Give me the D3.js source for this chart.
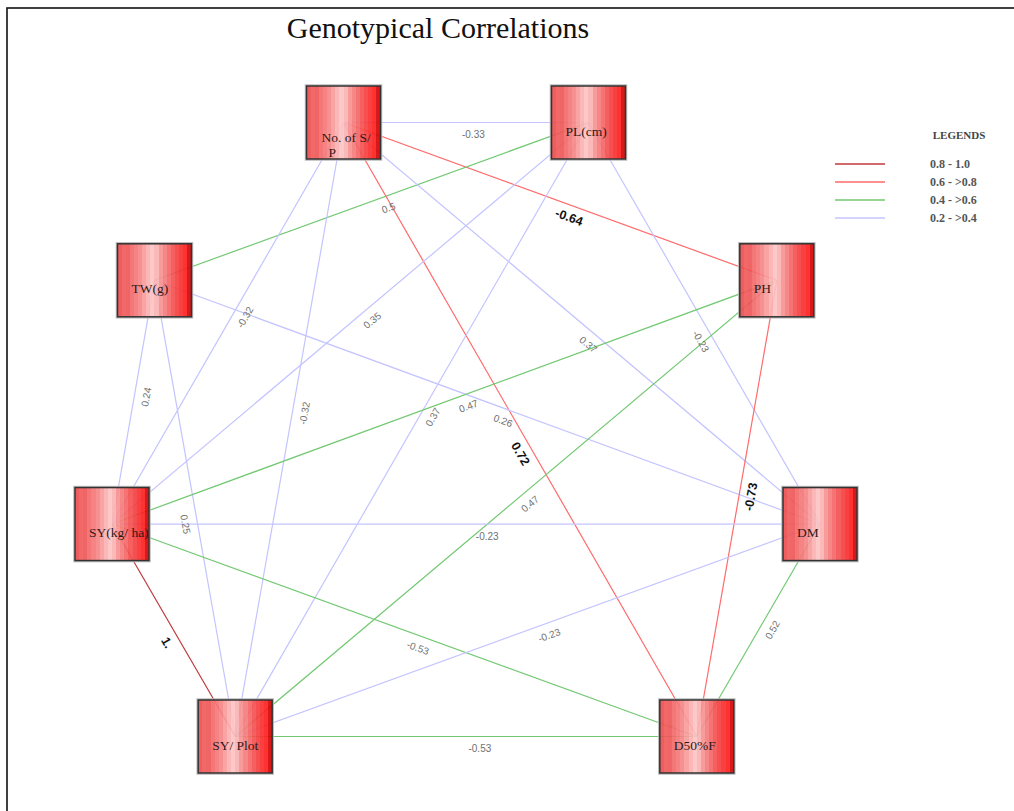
<!DOCTYPE html>
<html>
<head>
<meta charset="utf-8">
<script src="https://cdn.jsdelivr.net/npm/d3@7"></script>
<style>
  html, body { margin: 0; padding: 0; background: #fff; }
  svg { display: block; }
</style>
</head>
<body>
<div id="chart"></div>
<script>
// Traits (network nodes)
const nodeNames = ["No. of S/ P", "PL(cm)", "TW(g)", "PH", "SY(kg/ ha)", "DM", "SY/ Plot", "D50%F"];
// Node layout in unit coordinates (0..1 across the ring)
const nodeLayoutX = [0.327, 0.673, 0.060, 0.939, 0.000, 1.000, 0.174, 0.826];
const nodeLayoutY = [0.000, 0.000, 0.257, 0.257, 0.654, 0.654, 1.000, 1.000];

// Genotypic correlations between trait pairs
const edgeFrom  = [0, 0, 1, 0, 0, 1, 0, 0, 1, 1, 2, 2, 2, 3, 3, 3, 4, 4, 4, 6, 6, 5];
const edgeTo    = [1, 3, 2, 7, 5, 5, 4, 6, 4, 6, 5, 4, 6, 4, 6, 7, 5, 6, 7, 5, 7, 7];
const edgeValue = [-0.33, -0.64, 0.5, 0.72, 0.37, -0.23, -0.32, -0.32, 0.35, 0.37, 0.26, 0.24, 0.25,
                   0.47, 0.47, -0.73, -0.23, 1, -0.53, -0.23, -0.53, 0.52];

// Legend classes
const legendLabels = ["0.8 - 1.0", "0.6 - >0.8", "0.4 - >0.6", "0.2 - >0.4"];
const legendLower  = [0.8, 0.6, 0.4, 0.2];
const legendColors = ["#c0393b", "#ff6a6a", "#72c872", "#c4c4ff"];

const W = 1014, H = 811;
const svg = d3.select("#chart").append("svg").attr("width", W).attr("height", H);

// frame
svg.append("rect").attr("x", 7).attr("y", 8).attr("width", W + 20).attr("height", H + 20)
  .attr("fill", "none").attr("stroke", "#111").attr("stroke-width", 1.6);

// title
svg.append("text").attr("x", 438).attr("y", 38).attr("text-anchor", "middle")
  .attr("font-family", "Liberation Serif, Times New Roman, serif").attr("font-size", 30)
  .attr("fill", "#111").text("Genotypical Correlations");

const x = d3.scaleLinear().domain([0, 1]).range([112, 820]);
const y = d3.scaleLinear().domain([0, 1]).range([122.5, 736.5]);

const nodes = nodeNames.map((n, i) => ({ name: n, x: x(nodeLayoutX[i]), y: y(nodeLayoutY[i]) }));
const edges = edgeValue.map((v, i) => ({ s: nodes[edgeFrom[i]], t: nodes[edgeTo[i]], v }));

const classColor = v => {
  const a = Math.abs(v);
  const k = legendLower.findIndex(l => a >= l);
  return legendColors[k < 0 ? legendColors.length - 1 : k];
};
const fmt = v => Math.abs(v) === 1 ? v + "." : String(v);

// edges
svg.append("g").selectAll("line").data(edges).join("line")
  .attr("x1", d => d.s.x).attr("y1", d => d.s.y)
  .attr("x2", d => d.t.x).attr("y2", d => d.t.y)
  .attr("stroke", d => classColor(d.v)).attr("stroke-width", 1.2);

// edge labels: slightly past the midpoint from the left end, rotated along the edge
svg.append("g").selectAll("text").data(edges).join("text")
  .attr("transform", d => {
    const a = d.s.x <= d.t.x ? d.s : d.t, b = d.s.x <= d.t.x ? d.t : d.s;
    const ang = Math.atan2(b.y - a.y, b.x - a.x);
    const f = 0.53, off = 12;
    const mx = a.x + (b.x - a.x) * f, my = a.y + (b.y - a.y) * f;
    const px = mx - Math.sin(ang) * off, py = my + Math.cos(ang) * off;
    return `translate(${px},${py}) rotate(${ang * 180 / Math.PI})`;
  })
  .attr("text-anchor", "middle").attr("dominant-baseline", "central")
  .attr("font-family", "Liberation Sans Narrow, Liberation Sans, Arial, sans-serif")
  .attr("font-size", d => Math.abs(d.v) >= 0.6 ? 12.5 : 10)
  .attr("font-weight", d => Math.abs(d.v) >= 0.6 ? "bold" : "normal")
  .attr("fill", d => Math.abs(d.v) >= 0.6 ? "#111" : "#707070")
  .text(d => fmt(d.v));

// striped red fill for the node boxes
const stripes = ["#ec4c4c", "#f05858", "#ee5454", "#f36868", "#f57676", "#f68484", "#f99a9a", "#fbb0b0",
                 "#fcc2c2", "#fab2b2", "#f89090", "#f57a7a", "#f46464", "#f44e4e", "#f63c3c", "#f92c2c",
                 "#ff1c1c", "#d40000"];
const grad = svg.append("defs").append("linearGradient").attr("id", "boxFill")
  .attr("x1", "0%").attr("x2", "100%").attr("y1", "0%").attr("y2", "0%");
stripes.forEach((c, i) => {
  grad.append("stop").attr("offset", (i / stripes.length * 100) + "%").attr("stop-color", c);
  grad.append("stop").attr("offset", ((i + 1) / stripes.length * 100) + "%").attr("stop-color", c);
});

const bw = 74, bh = 73;
const ng = svg.append("g").selectAll("g").data(nodes).join("g")
  .attr("transform", d => `translate(${d.x - bw / 2},${d.y - bh / 2})`);
ng.append("rect").attr("x", -1).attr("y", -1).attr("width", bw + 2).attr("height", bh + 2)
  .attr("fill", "none").attr("stroke", "#bbb").attr("stroke-width", 1.5);
ng.append("rect").attr("width", bw).attr("height", bh)
  .attr("fill", "url(#boxFill)").attr("fill-opacity", 0.9)
  .attr("stroke", "#333").attr("stroke-width", 1.5);
ng.append("text")
  .attr("font-family", "Liberation Serif, Times New Roman, serif").attr("font-size", 13.5)
  .attr("fill", "#2e1a1a")
  .each(function (d) {
    const parts = d.name.split(" ");
    const t = d3.select(this);
    if (parts.length > 2 && d.name.startsWith("No.")) {
      t.append("tspan").attr("x", 15).attr("y", bh / 2 + 19).text(parts.slice(0, -1).join(" "));
      t.append("tspan").attr("x", 22).attr("y", bh / 2 + 34).text(parts[parts.length - 1]);
    } else {
      t.append("tspan").attr("x", 14).attr("y", bh / 2 + 13).text(d.name);
    }
  });

// legend
const lg = svg.append("g").attr("font-family", "Liberation Serif, Times New Roman, serif");
lg.append("text").attr("x", 959).attr("y", 139).attr("text-anchor", "middle")
  .attr("font-size", 11).attr("font-weight", "bold").attr("fill", "#444").text("LEGENDS");
legendLabels.forEach((l, i) => {
  const yy = 164 + i * 18;
  lg.append("line").attr("x1", 835).attr("x2", 885).attr("y1", yy).attr("y2", yy)
    .attr("stroke", legendColors[i]).attr("stroke-width", 1.6);
  lg.append("text").attr("x", 930).attr("y", yy + 4).attr("font-size", 12)
    .attr("font-weight", "bold").attr("fill", "#555").text(l);
});
</script>
</body>
</html>
